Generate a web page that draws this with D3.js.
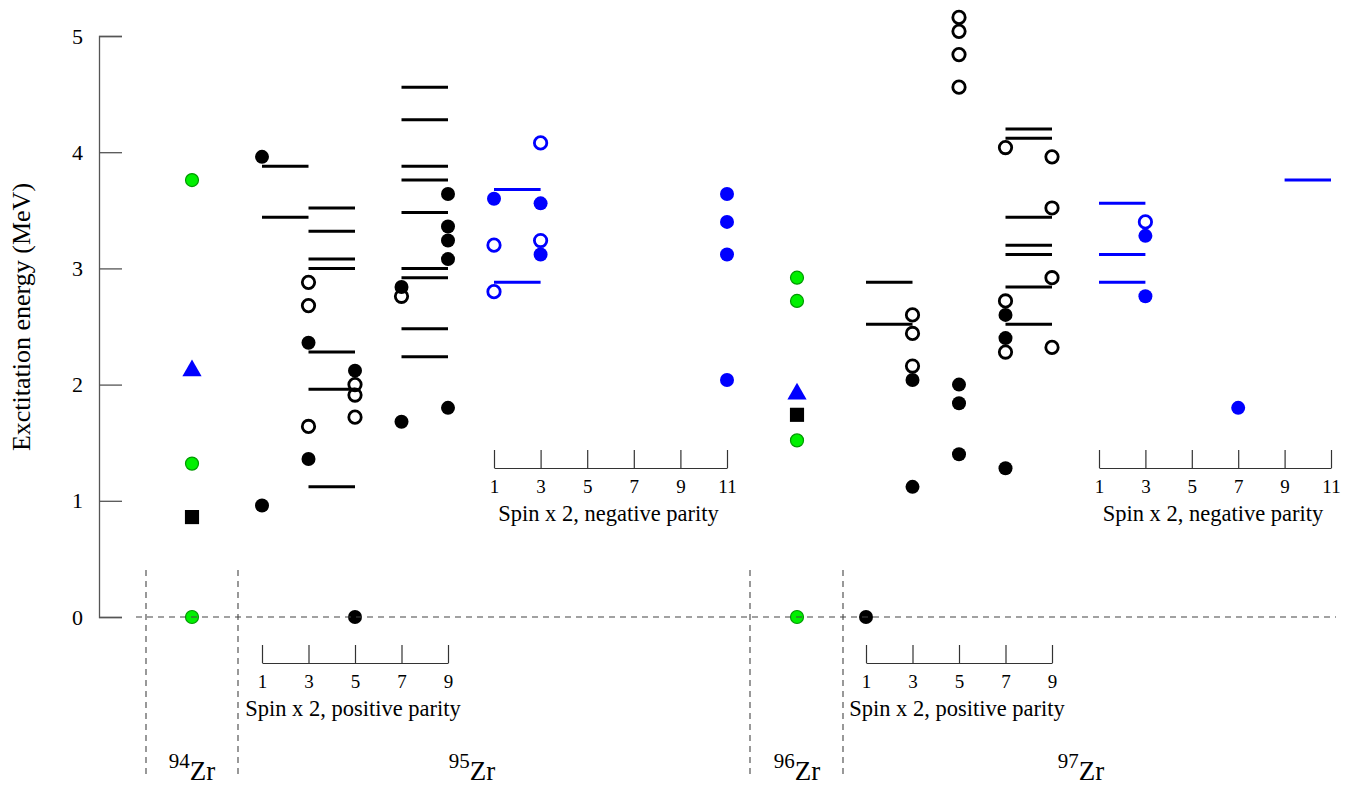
<!DOCTYPE html>
<html>
<head>
<meta charset="utf-8">
<script src="https://cdn.jsdelivr.net/npm/d3@7"></script>
<style>
  body { margin: 0; background: #fff; }
  svg text { font-family: "Liberation Serif", "Times New Roman", serif; fill: #000; }
</style>
</head>
<body>
<svg id="levels" width="1359" height="785"></svg>
<script>
// energies in MeV, spins as 2J
var yTicks = [0, 1, 2, 3, 4, 5];
var posSpinTicks = [1, 3, 5, 7, 9];
var negSpinTicks = [1, 3, 5, 7, 9, 11];

// even-even nuclei
var zr94Green = [0, 1.32, 3.76];
var zr94Triangle = [2.12];
var zr94Square = [0.86];
var zr96Green = [0, 1.52, 2.72, 2.92];
var zr96Triangle = [1.92];
var zr96Square = [1.74];

// 95Zr
var zr95PosFilled = [[1, 3.96], [1, 0.96], [3, 2.36], [3, 1.36], [5, 2.12], [5, 0], [7, 2.84], [7, 1.68],
    [9, 3.64], [9, 3.36], [9, 3.24], [9, 3.08], [9, 1.80]];
var zr95PosOpen = [[3, 2.88], [3, 2.68], [3, 1.64], [5, 2.00], [5, 1.91], [5, 1.72], [7, 2.76]];
var zr95PosTheory = [[3, 3.88], [3, 3.44], [5, 3.52], [5, 3.32], [5, 3.08], [5, 3.00], [5, 2.28], [5, 1.96], [5, 1.12],
    [9, 4.56], [9, 4.28], [9, 3.88], [9, 3.76], [9, 3.48], [9, 3.00], [9, 2.92], [9, 2.48], [9, 2.24]];
var zr95NegFilled = [[1, 3.60], [3, 3.56], [3, 3.12], [11, 3.64], [11, 3.40], [11, 3.12], [11, 2.04]];
var zr95NegOpen = [[1, 3.20], [1, 2.80], [3, 4.08], [3, 3.24]];
var zr95NegTheory = [[3, 3.68], [3, 2.88]];

// 97Zr
var zr97PosFilled = [[1, 0], [3, 2.04], [3, 1.12], [5, 2.00], [5, 1.84], [5, 1.40], [7, 2.60], [7, 2.40], [7, 1.28]];
var zr97PosOpen = [[3, 2.60], [3, 2.44], [3, 2.16], [5, 5.16], [5, 5.04], [5, 4.84], [5, 4.56],
    [7, 4.04], [7, 2.72], [7, 2.28], [9, 3.96], [9, 3.52], [9, 2.92], [9, 2.32]];
var zr97PosTheory = [[3, 2.88], [3, 2.52], [9, 4.20], [9, 4.12], [9, 3.44], [9, 3.20], [9, 3.12], [9, 2.84], [9, 2.52]];
var zr97NegFilled = [[3, 3.28], [3, 2.76], [7, 1.80]];
var zr97NegOpen = [[3, 3.40]];
var zr97NegTheory = [[3, 3.56], [3, 3.12], [3, 2.88], [11, 3.76]];

var svg = d3.select("#levels");

var y = d3.scaleLinear().domain([0, 5]).range([617, 36]);

// one spin scale per panel
var x95pos = d3.scaleLinear().domain([1, 9]).range([262, 448]);
var x95neg = d3.scaleLinear().domain([1, 11]).range([494, 727]);
var x97pos = d3.scaleLinear().domain([1, 9]).range([866, 1052]);
var x97neg = d3.scaleLinear().domain([1, 11]).range([1099, 1331]);
var x94 = 192, x96 = 797;

// y axis, ticks pointing inward
var yAxis = svg.append("g")
    .attr("transform", "translate(99,0)")
    .call(d3.axisRight(y).tickValues(yTicks).tickSize(23).tickFormat(d3.format("d")));
yAxis.select(".domain").attr("stroke", "#555").attr("stroke-width", 1.3);
yAxis.selectAll(".tick line").attr("stroke", "#555").attr("stroke-width", 1.3);
yAxis.selectAll(".tick text")
    .attr("x", -16)
    .attr("text-anchor", "end")
    .style("font-size", "22px")
    .style("font-family", "Liberation Serif");

svg.append("text")
    .attr("transform", "translate(30,317) rotate(-90)")
    .attr("text-anchor", "middle")
    .style("font-size", "26px")
    .text("Exctitation energy (MeV)");

// dashed separators between nuclei
[146, 238, 750, 843].forEach(function(xv) {
    svg.append("line")
        .attr("x1", xv).attr("x2", xv)
        .attr("y1", 570).attr("y2", 776)
        .attr("stroke", "#555").attr("stroke-width", 1.2)
        .attr("stroke-dasharray", "6,5");
});

// spin axes
function spinAxis(scale, ticks, yPos, title) {
    var g = svg.append("g").attr("transform", "translate(0," + yPos + ")");
    g.call(d3.axisTop(scale).tickValues(ticks).tickSize(18).tickSizeOuter(0).tickFormat(d3.format("d")));
    g.select(".domain").attr("stroke", "#333").attr("stroke-width", 1.2);
    g.selectAll(".tick line").attr("stroke", "#333").attr("stroke-width", 1.2);
    g.selectAll(".tick text")
        .attr("y", 25)
        .attr("dy", null)
        .style("font-size", "19px")
        .style("font-family", "Liberation Serif");
    var r = scale.range();
    svg.append("text")
        .attr("x", (r[0] + r[1]) / 2 - 2)
        .attr("y", yPos + 53)
        .attr("text-anchor", "middle")
        .style("font-size", "22.5px")
        .text(title);
}
spinAxis(x95pos, posSpinTicks, 663, "Spin x 2, positive parity");
spinAxis(x95neg, negSpinTicks, 468, "Spin x 2, negative parity");
spinAxis(x97pos, posSpinTicks, 663, "Spin x 2, positive parity");
spinAxis(x97neg, negSpinTicks, 468, "Spin x 2, negative parity");

// theory levels: bar from 2J-2 to 2J
function theory(data, scale, color) {
    svg.append("g").selectAll("line")
        .data(data)
        .enter().append("line")
        .attr("x1", d => scale(d[0] - 2))
        .attr("x2", d => scale(d[0]))
        .attr("y1", d => y(d[1]))
        .attr("y2", d => y(d[1]))
        .attr("stroke", color)
        .attr("stroke-width", 3);
}
theory(zr95PosTheory, x95pos, "#000");
theory(zr95NegTheory, x95neg, "#0000ff");
theory(zr97PosTheory, x97pos, "#000");
theory(zr97NegTheory, x97neg, "#0000ff");

function filled(data, scale, color) {
    svg.append("g").selectAll("circle")
        .data(data)
        .enter().append("circle")
        .attr("cx", d => scale(d[0]))
        .attr("cy", d => y(d[1]))
        .attr("r", 7)
        .attr("fill", color);
}
function open(data, scale, color) {
    svg.append("g").selectAll("circle")
        .data(data)
        .enter().append("circle")
        .attr("cx", d => scale(d[0]))
        .attr("cy", d => y(d[1]))
        .attr("r", 6.2)
        .attr("fill", "none")
        .attr("stroke", color)
        .attr("stroke-width", 2.8);
}
filled(zr95PosFilled, x95pos, "#000");
open(zr95PosOpen, x95pos, "#000");
filled(zr95NegFilled, x95neg, "#0000ff");
open(zr95NegOpen, x95neg, "#0000ff");
filled(zr97PosFilled, x97pos, "#000");
open(zr97PosOpen, x97pos, "#000");
filled(zr97NegFilled, x97neg, "#0000ff");
open(zr97NegOpen, x97neg, "#0000ff");

// even-even markers
var triangle = d3.symbol().type(d3.symbolTriangle).size(160);
var square = d3.symbol().type(d3.symbolSquare).size(200);
function evenMarks(xv, greens, tris, squares) {
    var g = svg.append("g");
    g.selectAll("circle")
        .data(greens)
        .enter().append("circle")
        .attr("cx", xv)
        .attr("cy", d => y(d))
        .attr("r", 6.5)
        .attr("fill", "#00f000")
        .attr("stroke", "#009a00")
        .attr("stroke-width", 1.2);
    g.selectAll("path.tri")
        .data(tris)
        .enter().append("path")
        .attr("class", "tri")
        .attr("d", triangle)
        .attr("transform", d => "translate(" + xv + "," + y(d) + ")")
        .attr("fill", "#0000ff");
    g.selectAll("path.sq")
        .data(squares)
        .enter().append("path")
        .attr("class", "sq")
        .attr("d", square)
        .attr("transform", d => "translate(" + xv + "," + y(d) + ")")
        .attr("fill", "#000");
}
evenMarks(x94, zr94Green, zr94Triangle, zr94Square);
evenMarks(x96, zr96Green, zr96Triangle, zr96Square);

// ground state line
svg.append("line")
    .attr("x1", 136).attr("x2", 1336)
    .attr("y1", y(0)).attr("y2", y(0))
    .attr("stroke", "#444").attr("stroke-width", 1.2)
    .attr("stroke-dasharray", "6,5");

// nucleus labels
var nucLabels = [["94", 192], ["95", 472], ["96", 797], ["97", 1081]];
nucLabels.forEach(function(n) {
    var t = svg.append("text")
        .attr("x", n[1])
        .attr("y", 780)
        .attr("text-anchor", "middle");
    t.append("tspan").attr("dy", -12).style("font-size", "21px").text(n[0]);
    t.append("tspan").attr("dy", 12).style("font-size", "27px").text("Zr");
});
</script>
</body>
</html>
